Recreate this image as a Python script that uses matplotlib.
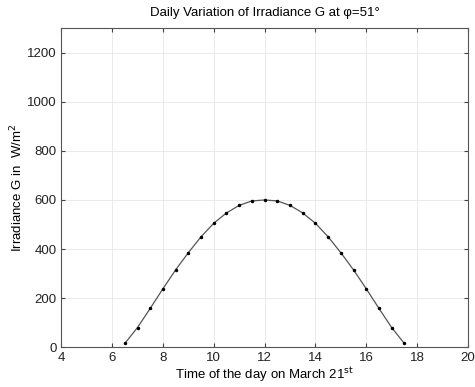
import matplotlib
matplotlib.use("Agg")
import matplotlib.pyplot as plt

plt.rcParams['font.family'] = ['Liberation Sans', 'DejaVu Sans']

# time of day (hours) and irradiance (W/m^2)
hours = [6.5, 7, 7.5, 8, 8.5, 9, 9.5, 10, 10.5, 11, 11.5, 12,
         12.5, 13, 13.5, 14, 14.5, 15, 15.5, 16, 16.5, 17, 17.5]
irradiance = [15, 80, 158, 238, 315, 385, 450, 505, 547, 578, 596, 600,
              596, 578, 547, 505, 450, 385, 315, 238, 158, 80, 15]

xticks = [4, 6, 8, 10, 12, 14, 16, 18, 20]
yticks = [0, 200, 400, 600, 800, 1000, 1200]

fig = plt.figure(figsize=(4.75, 3.87), dpi=100)
ax = fig.add_axes([0.129, 0.103, 0.856, 0.824])

ax.plot(hours, irradiance, color='#555555', linewidth=0.9, marker='.',
        markersize=3, markerfacecolor='black', markeredgecolor='black')

ax.set_xlim(4, 20)
ax.set_ylim(0, 1300)
ax.set_xticks(xticks)
ax.set_yticks(yticks)
ax.grid(True, color='#e6e6e6', linestyle='-', linewidth=0.6)
ax.tick_params(direction='in', top=True, right=True, labelsize=9.5, length=3,
               colors='#444444', labelcolor='#222222')
for s in ax.spines.values():
    s.set_color('#555555')
    s.set_linewidth(0.8)

ax.set_title('Daily Variation of Irradiance G at \u03c6=51\u00b0', fontsize=9.5, pad=9)
ax.set_xlabel(r'Time of the day on March 21$^{\rm st}$', fontsize=9.5, labelpad=1)
ax.set_ylabel(r'Irradiance G in  W/m$^2$', fontsize=9.5, labelpad=1)

fig.savefig("out.png", dpi=100)
